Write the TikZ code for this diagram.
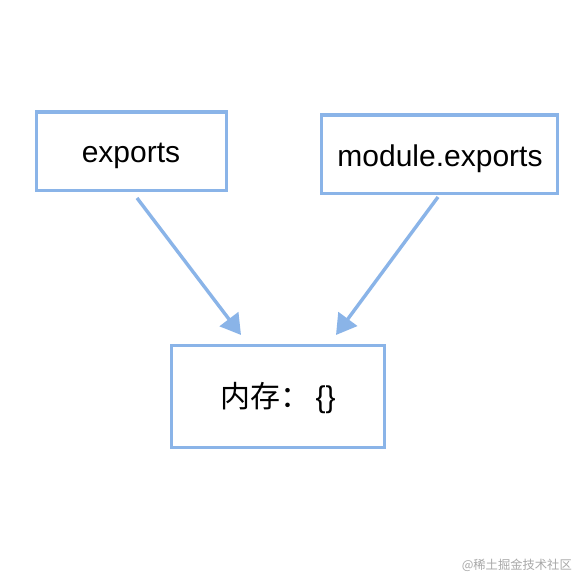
\documentclass[tikz,border=0pt]{standalone}
\usepackage{fontspec}
\setmainfont{Liberation Sans}
\newfontfamily\cjk{Noto Sans CJK SC}
\usetikzlibrary{arrows.meta}
\definecolor{boxblue}{HTML}{8AB4E8}
\definecolor{wmgray}{HTML}{A8A8A8}
\tikzset{
  boxnode/.style={draw=boxblue, line width=3.2pt, fill=white, inner sep=0pt, anchor=north west},
  arrowline/.style={draw=boxblue, line width=3.4pt, -{Triangle[length=20pt,width=23pt]}},
  lbl/.style={font=\fontsize{30pt}{32pt}\selectfont, inner sep=0pt}
}
\begin{document}
\begin{tikzpicture}[x=1pt,y=-1pt]
\useasboundingbox[fill=white] (0,0) rectangle (588,588);
\node[boxnode, minimum width=190pt, minimum height=78pt] (ex) at (35,110.5) {};
\node[lbl] (extxt) at (131,156) {exports};
\node[boxnode, minimum width=236pt, minimum height=78pt] (mex) at (320,113.5) {};
\node[lbl] (mextxt) at (440,159) {module.exports};
\node[boxnode, minimum width=213pt, minimum height=102pt] (mem) at (170,343.5) {};
\node[lbl] (memtxt) at (278,398) {\cjk 内存：\hspace{-0.1em}\rmfamily\ \{\}};
\coordinate (s1) at (137,198);
\coordinate (t1) at (241,335);
\coordinate (s2) at (438,197);
\coordinate (t2) at (336,335);
\draw[arrowline] (s1) -- (t1);
\draw[arrowline] (s2) -- (t2);
\node[text=wmgray, font=\cjk\fontsize{12.3pt}{14pt}\selectfont, inner sep=0pt, anchor=east] (wm) at (572,565) {@稀土掘金技术社区};
\end{tikzpicture}
\end{document}
